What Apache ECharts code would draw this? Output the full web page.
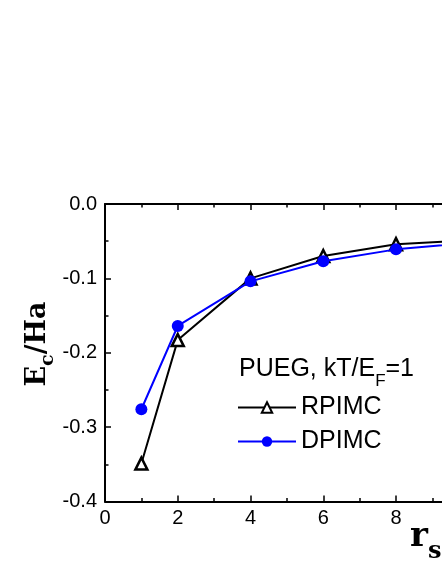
<!DOCTYPE html>
<html><head><meta charset="utf-8">
<script src="https://cdn.jsdelivr.net/npm/echarts@6/dist/echarts.min.js"></script>
<style>html,body{margin:0;padding:0;background:#fff}#c{width:442px;height:571px}</style>
</head><body><div id="c"></div>
<script>
const rsValues = [1, 2, 4, 6, 8, 10];
const rpimc = [-0.349, -0.183, -0.100, -0.070, -0.054, -0.049];
const dpimc = [-0.276, -0.164, -0.104, -0.077, -0.061, -0.052];
const seriesNames = ['RPIMC', 'DPIMC'];
const annotation = ['PUEG, kT/E', 'F', '=1'];
const yTitle = ['E', 'c', '/Ha'];
const xTitle = ['r', 's'];

const chart = echarts.init(document.getElementById('c'), null, {renderer: 'canvas'});
const sans = '"Liberation Sans", Arial, sans-serif';
const serifFam = '"DejaVu Serif", serif';
const axisCommon = {
  type: 'value', min: 0, max: 12, interval: 2,
  axisLine: {show: true, onZero: false, lineStyle: {color: '#000', width: 2}},
  axisTick: {show: true, inside: true, length: 6, lineStyle: {color: '#000', width: 1.5}},
  minorTick: {show: true, splitNumber: 2, length: 3.5, lineStyle: {color: '#000', width: 1.5}},
  splitLine: {show: false}
};
const option = {
  backgroundColor: '#fff',
  animation: false,
  grid: {left: 105, top: 204, width: 436.5, height: 297.5, containLabel: false, outerBoundsMode: 'none'},
  xAxis: [
    Object.assign({}, axisCommon, {
      position: 'bottom',
      axisLabel: {show: true, margin: 7, fontFamily: sans, fontSize: 20, color: '#000'}
    }),
    Object.assign({}, axisCommon, {position: 'top', axisLabel: {show: false}})
  ],
  yAxis: [
    {
      type: 'value', min: -0.4, max: 0, interval: 0.1, position: 'left',
      axisLine: {show: true, onZero: false, lineStyle: {color: '#000', width: 2}},
      axisTick: {show: true, inside: true, length: 6, lineStyle: {color: '#000', width: 1.5}},
      minorTick: {show: true, splitNumber: 2, length: 3.5, lineStyle: {color: '#000', width: 1.5}},
      splitLine: {show: false},
      axisLabel: {show: true, margin: 8, fontFamily: sans, fontSize: 20, color: '#000',
        formatter: v => v.toFixed(1)}
    }
  ],
  legend: {
    orient: 'vertical', left: 237, top: 395, padding: 0,
    itemWidth: 58, itemHeight: 13, itemGap: 9,
    textStyle: {fontFamily: sans, fontSize: 25, color: '#000'},
    data: seriesNames
  },
  series: [
    {
      name: seriesNames[0], type: 'line', data: rsValues.map((x, i) => [x, rpimc[i]]),
      symbol: 'triangle', symbolSize: 12, showAllSymbol: true,
      lineStyle: {color: '#000', width: 2},
      itemStyle: {color: '#fff', borderColor: '#000', borderWidth: 2.5},
      z: 2
    },
    {
      name: seriesNames[1], type: 'line', data: rsValues.map((x, i) => [x, dpimc[i]]),
      symbol: 'circle', symbolSize: 12, showAllSymbol: true,
      lineStyle: {color: '#0000ff', width: 2},
      itemStyle: {color: '#0000ff', borderColor: '#0000ff', borderWidth: 0},
      z: 3
    }
  ],
  graphic: [
    {
      type: 'text', x: 239, y: 357,
      style: {
        text: '{a|' + annotation[0] + '}{s|' + annotation[1] + '}{a|' + annotation[2] + '}',
        rich: {
          a: {fontFamily: sans, fontSize: 25, fill: '#000', verticalAlign: 'bottom', padding: [0, 0, 8, 0]},
          s: {fontFamily: sans, fontSize: 17, fill: '#000', verticalAlign: 'bottom'}
        }
      }
    },
    {
      type: 'text', x: 41, y: 344, rotation: Math.PI / 2,
      style: {
        text: '{a|' + yTitle[0] + '}{s|' + yTitle[1] + '}{a|' + yTitle[2] + '}',
        align: 'center', verticalAlign: 'middle',
        rich: {
          a: {fontFamily: serifFam, fontWeight: 'bold', fontSize: 27, fill: '#000', verticalAlign: 'bottom', padding: [0, 0, 6, 0]},
          s: {fontFamily: serifFam, fontWeight: 'bold', fontSize: 19, fill: '#000', verticalAlign: 'bottom'}
        }
      }
    },
    {
      type: 'text', x: 410, y: 520,
      style: {
        text: '{a|' + xTitle[0] + '}{s|' + xTitle[1] + '}',
        rich: {
          a: {fontFamily: serifFam, fontWeight: 'bold', fontSize: 34, fill: '#000', verticalAlign: 'bottom', padding: [0, 0, 10, 0]},
          s: {fontFamily: serifFam, fontWeight: 'bold', fontSize: 24, fill: '#000', verticalAlign: 'bottom'}
        }
      }
    }
  ]
};
chart.setOption(option);
</script>
</body></html>
